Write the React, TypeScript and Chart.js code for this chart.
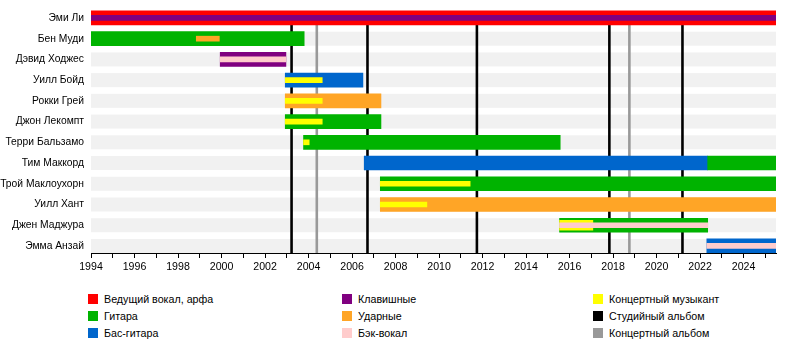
import React, { useEffect, useRef } from 'react';
import { Chart, registerables } from 'chart.js';

Chart.register(...registerables);

// ---------- data ----------
const members = [
  'Эми Ли',
  'Бен Муди',
  'Дэвид Ходжес',
  'Уилл Бойд',
  'Рокки Грей',
  'Джон Лекомпт',
  'Терри Бальзамо',
  'Тим Маккорд',
  'Трой Маклоухорн',
  'Уилл Хант',
  'Джен Маджура',
  'Эмма Анзай',
];

const START = 1994;
const END = 2025.49;

const tickYears = [
  1994, 1995, 1996, 1997, 1998, 1999, 2000, 2001, 2002, 2003, 2004, 2005, 2006, 2007, 2008, 2009,
  2010, 2011, 2012, 2013, 2014, 2015, 2016, 2017, 2018, 2019, 2020, 2021, 2022, 2023, 2024, 2025,
];
const labeledYears = [1994, 1996, 1998, 2000, 2002, 2004, 2006, 2008, 2010, 2012, 2014, 2016, 2018, 2020, 2022, 2024];

// [member index, start, end]
const leadVocals = [[0, 1994, END]];
const guitar = [
  [1, 1994, 2003.8],
  [5, 2002.93, 2007.33],
  [6, 2003.77, 2015.57],
  [7, 2022.35, END],
  [8, 2007.3, END],
  [10, 2015.54, 2022.35],
];
const bass = [
  [3, 2002.93, 2006.5],
  [7, 2006.56, 2022.35],
  [11, 2022.31, END],
];
const drums = [
  [4, 2002.93, 2007.33],
  [9, 2007.3, END],
];
const keyboards = [[2, 1999.94, 2002.96]];
const keyboardsSecondary = [[0, 1994, END]];
const drumsSecondary = [[1, 1998.84, 1999.9]];
const backingVocals = [
  [2, 1999.94, 2002.96],
  [10, 2015.54, 2022.35],
  [11, 2022.31, END],
];
const touring = [
  [3, 2002.93, 2004.63],
  [4, 2002.93, 2004.63],
  [5, 2002.93, 2004.63],
  [6, 2003.77, 2004.03],
  [8, 2007.3, 2011.43],
  [9, 2007.3, 2009.44],
];
const touringWide = [[10, 2015.54, 2017.07]];

const studioAlbums = [2003.22, 2006.71, 2011.74, 2017.83, 2021.19];
const liveAlbums = [2004.38, 2018.75];

const legendLabels = [
  'Ведущий вокал, арфа',
  'Гитара',
  'Бас-гитара',
  'Клавишные',
  'Ударные',
  'Бэк-вокал',
  'Концертный музыкант',
  'Студийный альбом',
  'Концертный альбом',
];

// ---------- styles ----------
const COLORS = {
  red: '#ff0000',
  green: '#00b300',
  blue: '#0066cc',
  purple: '#800080',
  orange: '#ffa526',
  pink: '#ffcccc',
  yellow: '#ffff00',
  black: '#000000',
  grey: '#999999',
};
const legendColors = [
  COLORS.red, COLORS.green, COLORS.blue,
  COLORS.purple, COLORS.orange, COLORS.pink,
  COLORS.yellow, COLORS.black, COLORS.grey,
];

const FONT = '"Liberation Sans", Arial, sans-serif';

const toPoints = (spans: number[][]) => spans.map(([i, a, b]) => ({ y: i, x: [a, b] }));

const backdropPlugin = {
  id: 'backdrop',
  beforeDatasetsDraw(chart: any) {
    const { ctx, chartArea, scales } = chart;
    const x = scales.x;
    const y = scales.y;
    ctx.save();
    ctx.fillStyle = '#f1f1f1';
    const x0 = x.getPixelForValue(START);
    const x1 = x.getPixelForValue(END);
    members.forEach((_, i) => {
      const c = y.getPixelForValue(i);
      ctx.fillRect(x0, c - 7, x1 - x0, 14);
    });
    const top = y.getPixelForValue(0) + 7;
    const bottom = chartArea.bottom;
    const drawLines = (vals: number[], color: string) => {
      ctx.strokeStyle = color;
      ctx.lineWidth = 2.6;
      vals.forEach((v) => {
        const px = x.getPixelForValue(v);
        ctx.beginPath();
        ctx.moveTo(px, top);
        ctx.lineTo(px, bottom);
        ctx.stroke();
      });
    };
    drawLines(studioAlbums, COLORS.black);
    drawLines(liveAlbums, COLORS.grey);
    ctx.restore();
  },
};

export default function App() {
  const ref = useRef<HTMLCanvasElement | null>(null);

  useEffect(() => {
    if (!ref.current) return;
    const mk = (data: number[][], color: string, thickness: number, order: number) => ({
      data: toPoints(data) as any,
      backgroundColor: color,
      barThickness: thickness,
      grouped: false,
      order,
      borderWidth: 0,
    });
    const chart = new Chart(ref.current, {
      type: 'bar',
      data: {
        datasets: [
          mk(leadVocals, COLORS.red, 14, 5),
          mk(guitar, COLORS.green, 14, 5),
          mk(bass, COLORS.blue, 14, 5),
          mk(drums, COLORS.orange, 14, 5),
          mk(keyboards, COLORS.purple, 14, 5),
          mk(touringWide, COLORS.yellow, 10, 3),
          mk(keyboardsSecondary, COLORS.purple, 5, 2),
          mk(drumsSecondary, COLORS.orange, 5, 2),
          mk(touring, COLORS.yellow, 5, 2),
          mk(backingVocals, COLORS.pink, 5, 1),
        ] as any,
      },
      plugins: [backdropPlugin],
      options: {
        indexAxis: 'y',
        animation: false,
        responsive: false,
        devicePixelRatio: 1,
        layout: { padding: { top: 8, right: 9, left: 0, bottom: 0 } },
        plugins: {
          legend: { display: false },
          tooltip: { enabled: false },
        },
        scales: {
          x: {
            type: 'linear',
            position: 'bottom',
            offset: false,
            min: START,
            max: END,
            afterBuildTicks: (scale: any) => {
              scale.ticks = tickYears.map((v) => ({ value: v }));
            },
            afterFit: (scale: any) => {
              scale.height = 32;
              scale.paddingLeft = 0;
              scale.paddingRight = 0;
            },
            ticks: {
              autoSkip: false,
              maxRotation: 0,
              padding: 3,
              color: '#000',
              font: { family: FONT, size: 10.6 },
              callback: (v: any) => (labeledYears.includes(Number(v)) ? String(v) : ''),
            },
            grid: {
              drawOnChartArea: false,
              drawTicks: true,
              tickLength: 5,
              color: '#000',
              offset: false,
            },
            border: { display: true, color: '#000', width: 1 },
          },
          y: {
            type: 'linear',
            reverse: true,
            offset: false,
            min: -0.48,
            max: 11.34,
            afterBuildTicks: (scale: any) => {
              scale.ticks = members.map((_, i) => ({ value: i }));
            },
            afterFit: (scale: any) => {
              scale.width = 91;
              scale.paddingTop = 0;
              scale.paddingBottom = 0;
            },
            ticks: {
              autoSkip: false,
              padding: 7,
              color: '#000',
              font: { family: FONT, size: 10.3 },
              callback: (v: any) => members[Number(v)] ?? '',
            },
            grid: { display: false, drawTicks: false, offset: false },
            border: { display: false },
          },
        },
      } as any,
    });
    return () => chart.destroy();
  }, []);

  const colLeft = [88, 342, 593];
  return (
    <div
      style={{
        position: 'fixed',
        left: 0,
        top: 0,
        width: 785,
        height: 352,
        background: '#fff',
        fontFamily: FONT,
      }}
    >
      <canvas ref={ref} width={785} height={285} style={{ display: 'block', width: 785, height: 285 }} />
      {legendLabels.map((label, i) => {
        const col = Math.floor(i / 3);
        const row = i % 3;
        const cy = 299 + row * 17;
        return (
          <React.Fragment key={label}>
            <div
              style={{
                position: 'absolute',
                left: colLeft[col],
                top: cy - 5,
                width: 10,
                height: 10,
                background: legendColors[i],
              }}
            />
            <div
              style={{
                position: 'absolute',
                left: colLeft[col] + 16,
                top: cy - 7,
                fontSize: 10.7,
                lineHeight: '14px',
                color: '#000',
                whiteSpace: 'nowrap',
              }}
            >
              {label}
            </div>
          </React.Fragment>
        );
      })}
    </div>
  );
}
